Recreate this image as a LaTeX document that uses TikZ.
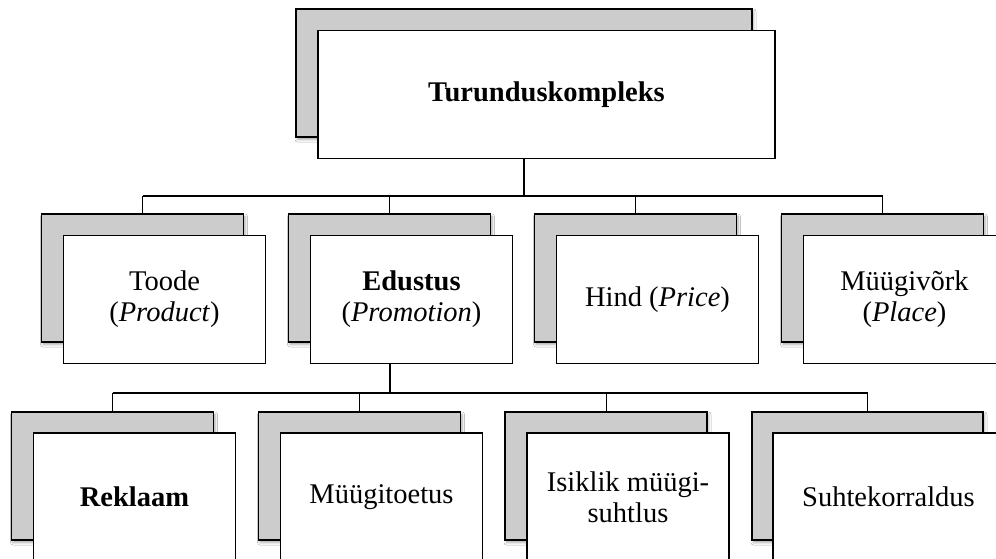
\documentclass[tikz,border=0pt]{standalone}
\usepackage{fontspec}
\setmainfont{Liberation Serif}
\usetikzlibrary{shadows.blur}
\begin{document}
\begin{tikzpicture}[x=1pt,y=-1pt,
  back/.style={draw=black, line width=1.6pt, fill=black!20, inner sep=0pt,
    minimum height=128pt, minimum width=#1,
    blur shadow={shadow xshift=1.5pt, shadow yshift=-2.5pt,
      shadow blur radius=2.5pt, shadow opacity=35}},
  back/.default=202pt,
  front/.style={draw=black, line width=1.6pt, fill=white, inner sep=0pt,
    minimum height=128pt, minimum width=#1, align=center,
    font=\fontsize{28.5}{31}\selectfont},
  front/.default=202pt,
  stub/.style={draw=black, line width=2pt},
  bus/.style={draw=black, line width=1.4pt},
  drop/.style={draw=black, line width=1pt}]
\useasboundingbox (0,0) rectangle (996,558);
\fill[white] (0,0) rectangle (996,558);
\clip (0,0) rectangle (996,558);

% top level
\node[back=456pt] (tops) at (524,73) {};
\node[front=457pt] (top) at (546.5,94.5) {\textbf{Turunduskompleks}};

% the four Ps
\node[back] (toodes) at (142.5,278) {};
\node[front] (toode) at (164.5,299.5) {Toode\\(\textit{Product})};
\node[back] (edustuss) at (389.5,278) {};
\node[front] (edustus) at (411.5,299.5) {\textbf{Edustus}\\(\textit{Promotion})};
\node[back] (hinds) at (635.5,278) {};
\node[front] (hind) at (657.5,299.5) {Hind (\textit{Price})};
\node[back] (muugivorks) at (882.5,278) {};
\node[front] (muugivork) at (904.5,299.5) {Müügivõrk\\(\textit{Place})};

% promotion tools
\node[back] (reklaams) at (112.5,476) {};
\node[front] (reklaam) at (134.5,497) {\textbf{Reklaam}};
\node[back] (toetuss) at (359.5,476) {};
\node[front] (toetus) at (381.5,497) {Müügitoetus};
\node[back] (isikliks) at (606,476) {};
\node[front] (isiklik) at (628,497) {Isiklik müügi-\\suhtlus};
\node[back=231pt] (suhtes) at (867.5,476) {};
\node[front=231pt] (suhte) at (888.5,497) {Suhtekorraldus};

% connectors
\coordinate (bus1) at (524,196);
\coordinate (bus2) at (389.5,393);
\draw[stub] (tops.south |- top.south) -- (bus1);
\draw[bus] (toodes.north |- bus1) -- (muugivorks.north |- bus1);
\foreach \n in {toodes,edustuss,hinds,muugivorks}
  \draw[drop] (\n.north |- bus1) -- (\n.north);

\draw[stub] (edustuss.south |- edustus.south) -- (bus2);
\draw[bus] (reklaams.north |- bus2) -- (suhtes.north |- bus2);
\foreach \n in {reklaams,toetuss,isikliks,suhtes}
  \draw[drop] (\n.north |- bus2) -- (\n.north);
\end{tikzpicture}
\end{document}
